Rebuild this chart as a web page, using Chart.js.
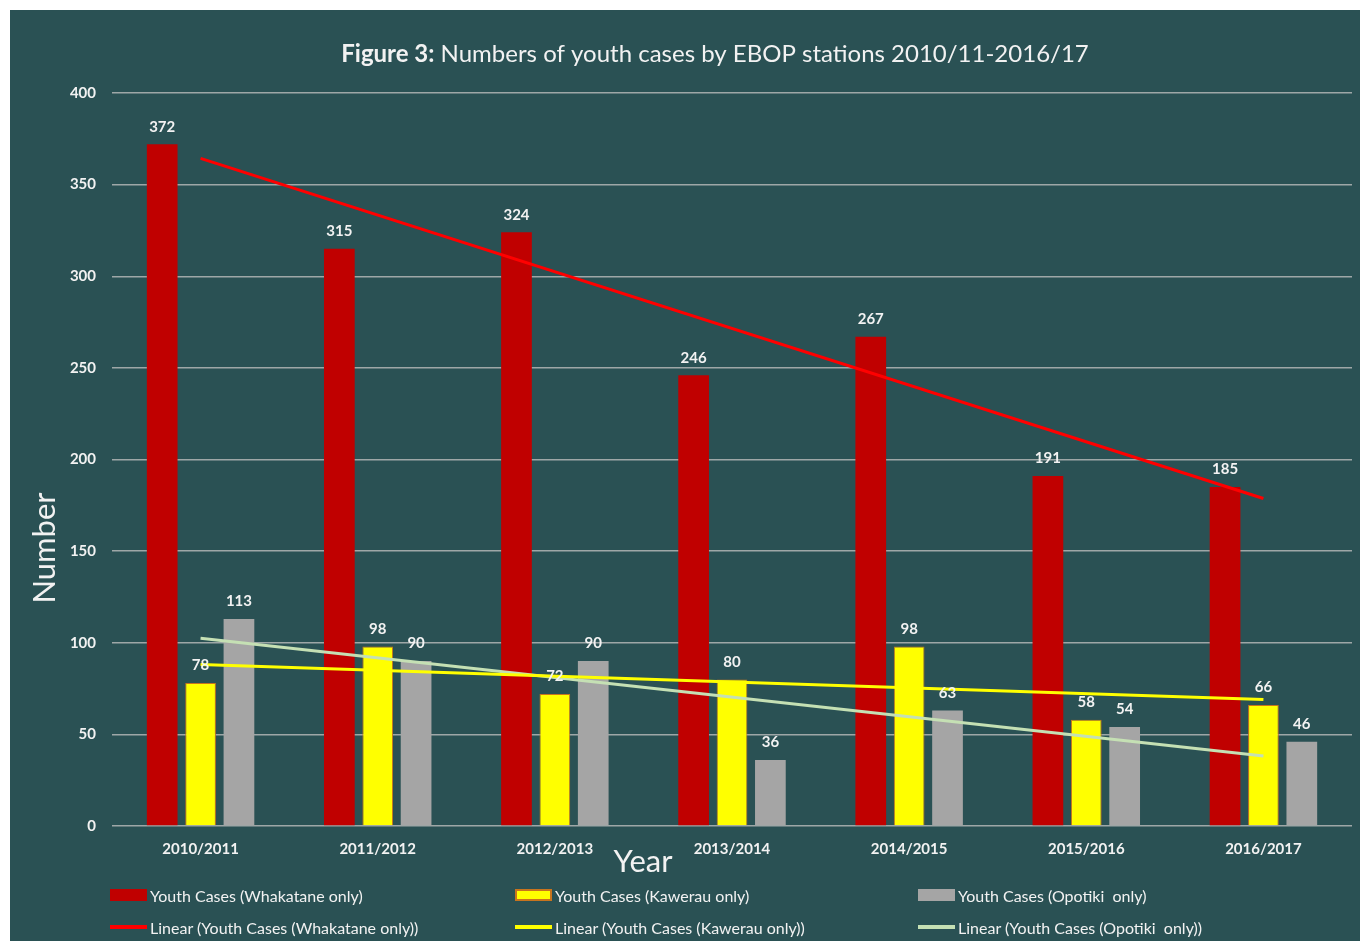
<!DOCTYPE html>
<html>
<head>
<meta charset="utf-8">
<script src="https://cdn.jsdelivr.net/npm/chart.js@4.4.1/dist/chart.umd.min.js"></script>
<style>
  body { margin: 0; background: #ffffff; }
  #marco { position: absolute; left: 10px; top: 10px; width: 1350px; height: 931px; background: #2a5154; }
  #leyenda { position: absolute; left: 0; top: 0; width: 1350px; height: 931px; pointer-events: none; }
  .item { position: absolute; display: flex; align-items: center; font-family: Lato, sans-serif; font-size: 16px; color: #f2f2f2; white-space: pre; }
  .caja { width: 37px; margin-right: 3px; }
</style>
</head>
<body>
<div id="marco">
  <canvas id="grafica" width="1350" height="931"></canvas>
  <div id="leyenda"></div>
</div>
<script>
var anios = ['2010/2011', '2011/2012', '2012/2013', '2013/2014', '2014/2015', '2015/2016', '2016/2017'];
var whakatane = [372, 315, 324, 246, 267, 191, 185];
var kawerau = [78, 98, 72, 80, 98, 58, 66];
var opotiki = [113, 90, 90, 36, 63, 54, 46];
// tendencias (solo extremos)
var tendWhakatane = [364.3, null, null, null, null, null, 178.7];
var tendKawerau = [88.1, null, null, null, null, null, 69.0];
var tendOpotiki = [102.5, null, null, null, null, null, 38.2];
var ticksY = [0, 50, 100, 150, 200, 250, 300, 350, 400];

var textoClaro = '#f2f2f2';

var pluginTextos = {
  id: 'textos',
  afterDatasetsDraw: function (chart) {
    var ctx = chart.ctx;
    ctx.save();
    ctx.fillStyle = textoClaro;
    ctx.font = 'bold 15px Lato, sans-serif';
    ctx.textAlign = 'center';
    ctx.textBaseline = 'bottom';
    chart.data.datasets.forEach(function (ds, i) {
      if (ds.type === 'line') return;
      var meta = chart.getDatasetMeta(i);
      meta.data.forEach(function (bar, j) {
        ctx.fillText(ds.data[j], bar.x, bar.y - 10);
      });
    });
    ctx.restore();
  },
  afterDraw: function (chart) {
    var ctx = chart.ctx;
    ctx.save();
    ctx.fillStyle = textoClaro;
    ctx.textBaseline = 'middle';
    // titulo
    var parte1 = 'Figure 3:';
    var parte2 = ' Numbers of youth cases by EBOP stations 2010/11-2016/17';
    ctx.font = 'bold 24px Lato, sans-serif';
    var w1 = ctx.measureText(parte1).width;
    ctx.font = '24px Lato, sans-serif';
    var w2 = ctx.measureText(parte2).width;
    var x0 = 705 - (w1 + w2) / 2;
    ctx.textAlign = 'left';
    ctx.font = 'bold 24px Lato, sans-serif';
    ctx.fillText(parte1, x0, 44);
    ctx.font = '24px Lato, sans-serif';
    ctx.fillText(parte2, x0 + w1, 44);
    // titulos de ejes
    ctx.textAlign = 'center';
    ctx.font = '31px Lato, sans-serif';
    ctx.fillText('Year', 633, 852);
    ctx.translate(35, 538);
    ctx.rotate(-Math.PI / 2);
    ctx.fillText('Number', 0, 0);
    ctx.restore();
  }
};

var ctx = document.getElementById('grafica').getContext('2d');
var myChart = new Chart(ctx, {
  type: 'bar',
  data: {
    labels: anios,
    datasets: [
      { type: 'line', label: 'Linear (Youth Cases (Whakatane only))', data: tendWhakatane, borderColor: '#ff0000', borderWidth: 3, pointRadius: 0, spanGaps: true, order: 0 },
      { type: 'line', label: 'Linear (Youth Cases (Kawerau only))', data: tendKawerau, borderColor: '#ffff00', borderWidth: 3, pointRadius: 0, spanGaps: true, order: 0 },
      { type: 'line', label: 'Linear (Youth Cases (Opotiki  only))', data: tendOpotiki, borderColor: '#c5e0b4', borderWidth: 3, pointRadius: 0, spanGaps: true, order: 0 },
      { label: 'Youth Cases (Whakatane only)', data: whakatane, backgroundColor: '#c00000', borderWidth: 0, order: 1 },
      { label: 'Youth Cases (Kawerau only)', data: kawerau, backgroundColor: '#ffff00', borderColor: '#c8741e', borderWidth: 1, order: 1 },
      { label: 'Youth Cases (Opotiki  only)', data: opotiki, backgroundColor: '#a5a5a5', borderWidth: 0, order: 1 }
    ]
  },
  options: {
    responsive: false,
    animation: false,
    layout: { padding: { top: 83, right: 8, left: 0, bottom: 0 } },
    datasets: { bar: { categoryPercentage: 0.65, barPercentage: 0.8 } },
    plugins: {
      legend: { display: false },
      tooltip: { enabled: false },
      title: { display: false }
    },
    scales: {
      x: {
        grid: { display: false },
        border: { display: false },
        ticks: { color: textoClaro, font: { family: 'Lato', size: 15, weight: 'bold' }, padding: 6, maxRotation: 0 },
        afterFit: function (s) { s.height = 115; }
      },
      y: {
        min: 0, max: 400,
        afterBuildTicks: function (s) { s.ticks = ticksY.map(function (v) { return { value: v }; }); },
        grid: { color: '#9ea7a7', lineWidth: 1.5, drawTicks: false },
        border: { display: false },
        ticks: { color: textoClaro, font: { family: 'Lato', size: 15, weight: 'bold' }, padding: 16 },
        afterFit: function (s) { s.width = 102; }
      }
    }
  },
  plugins: [pluginTextos]
});

// leyenda en html
var columnas = [100, 505, 908];
var filas = [885, 917];
var orden = [3, 4, 5, 0, 1, 2];
var leyenda = document.getElementById('leyenda');
orden.forEach(function (idx, k) {
  var ds = myChart.data.datasets[idx];
  var item = document.createElement('div');
  item.className = 'item';
  item.style.left = columnas[k % 3] + 'px';
  item.style.top = (filas[Math.floor(k / 3)] - 10) + 'px';
  item.style.height = '20px';
  var caja = document.createElement('span');
  caja.className = 'caja';
  if (ds.type === 'line') {
    caja.style.height = '4px';
    caja.style.background = ds.borderColor;
  } else {
    caja.style.height = '12px';
    caja.style.background = ds.backgroundColor;
    if (ds.borderWidth) { caja.style.boxSizing = 'border-box'; caja.style.border = '2px solid ' + ds.borderColor; }
  }
  item.appendChild(caja);
  var txt = document.createElement('span');
  txt.textContent = ds.label;
  item.appendChild(txt);
  leyenda.appendChild(item);
});
</script>
</body>
</html>
